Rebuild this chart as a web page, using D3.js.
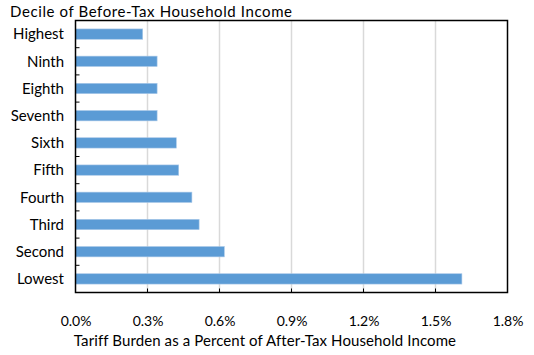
<!DOCTYPE html>
<html><head><meta charset="utf-8">
<script src="https://cdn.jsdelivr.net/npm/d3@7"></script>
<style>body{margin:0;background:#fff}svg text{font-family:Lato,"Open Sans",sans-serif;fill:#000}</style>
</head><body><svg id="c" width="534" height="355"></svg>
<script>
const categories = ["Highest","Ninth","Eighth","Seventh","Sixth","Fifth","Fourth","Third","Second","Lowest"];
const values = [0.28,0.34,0.34,0.34,0.42,0.43,0.485,0.515,0.62,1.61];
const tickValues = [0,0.3,0.6,0.9,1.2,1.5,1.8];
const yTitle = "Decile of Before-Tax Household Income";
const xTitle = "Tariff Burden as a Percent of After-Tax Household Income";

const svg = d3.select("#c");
const L=75.5, R=507.5, T=20.5, B=292.5;
const x = d3.scaleLinear().domain([0,1.8]).range([L,R]);
const y = d3.scaleBand().domain(categories).range([T,B]).paddingInner(0.62).paddingOuter(0.31);

// gridlines
svg.append("g").selectAll("line").data(tickValues.slice(1,-1)).join("line")
  .attr("x1",d=>x(d)).attr("x2",d=>x(d)).attr("y1",T).attr("y2",B)
  .attr("stroke","#d9d9d9").attr("stroke-width",1.5);

// bars
svg.append("g").selectAll("rect").data(values).join("rect")
  .attr("x",x(0)).attr("y",(d,i)=>y(categories[i]))
  .attr("width",d=>x(d)-x(0)).attr("height",y.bandwidth())
  .attr("fill","#5b9bd5").attr("stroke","#a9c8e8").attr("stroke-width",0.6);

// frame
svg.append("rect").attr("x",L).attr("y",T).attr("width",R-L).attr("height",B-T)
  .attr("fill","none").attr("stroke","#000").attr("stroke-width",1.5);

// left ticks (category boundaries)
const bounds = d3.range(1,categories.length).map(i=>T+i*(B-T)/categories.length);
svg.append("g").selectAll("line").data(bounds).join("line")
  .attr("x1",L).attr("x2",L+4).attr("y1",d=>d).attr("y2",d=>d)
  .attr("stroke","#000").attr("stroke-width",1);

// bottom axis
const xAxis = d3.axisBottom(x).tickValues(tickValues).tickSize(0).tickPadding(0)
  .tickFormat(d=>d3.format(".1f")(d)+"%");
const gx = svg.append("g").attr("transform",`translate(0,${B})`).call(xAxis);
gx.select(".domain").remove();
gx.selectAll("text").attr("y",33).attr("dy",0).attr("font-size",14).style("font-family","Lato,'Open Sans',sans-serif");
svg.append("g").selectAll("line").data(tickValues.slice(1,-1)).join("line")
  .attr("x1",d=>x(d)).attr("x2",d=>x(d)).attr("y1",B).attr("y2",B-4)
  .attr("stroke","#000").attr("stroke-width",1);

// category labels
svg.append("g").selectAll("text").data(categories).join("text")
  .attr("x",64).attr("y",d=>y(d)+y.bandwidth()/2).attr("dy","0.35em")
  .attr("text-anchor","end").attr("font-size",15).text(d=>d);

svg.append("text").attr("x",10).attr("y",17).attr("font-size",15).attr("letter-spacing",0.6).text(yTitle);
svg.append("text").attr("x",265).attr("y",346).attr("text-anchor","middle").attr("font-size",15).attr("letter-spacing",0.1).text(xTitle);
</script></body></html>
